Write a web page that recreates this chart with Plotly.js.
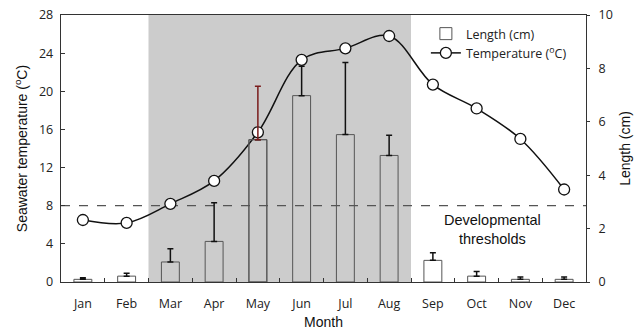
<!DOCTYPE html>
<html><head><meta charset="utf-8">
<script src="https://cdn.plot.ly/plotly-3.0.1.min.js"></script>
<style>html,body{margin:0;padding:0;background:#fff}#c{width:638px;height:331px}</style>
</head><body><div id="c"></div>
<script>
var months = ["Jan","Feb","Mar","Apr","May","Jun","Jul","Aug","Sep","Oct","Nov","Dec"];
var temperature = [6.5, 6.2, 8.2, 10.6, 15.7, 23.3, 24.5, 25.8, 20.7, 18.2, 15.0, 9.7];
var lengthCm = [0.10, 0.22, 0.75, 1.52, 5.33, 6.98, 5.52, 4.74, 0.81, 0.22, 0.10, 0.10];
var lengthErr = [0.06, 0.11, 0.50, 1.45, 2.00, 1.10, 2.70, 0.76, 0.29, 0.17, 0.09, 0.09];
var threshold = 8;
var warmSeason = ["Mar","Aug"];
var redErrMonth = "May";

var idxStart = months.indexOf(warmSeason[0]) - 0.5;
var idxEnd = months.indexOf(warmSeason[1]) + 0.5;
var inSeason = months.map(function(m,i){ return i >= idxStart && i <= idxEnd; });
var barFill = inSeason.map(function(s){ return s ? 'rgba(0,0,0,0)' : '#ffffff'; });
var redIdx = months.indexOf(redErrMonth);
var errMain = lengthErr.map(function(e,i){ return i===redIdx ? null : e; });
var zeros = lengthErr.map(function(){ return 0; });

var lblFont = {family:'Open Sans, Liberation Sans, sans-serif', size:12.5, color:'#222'};
var titleFont = {family:'Liberation Sans, Arial, sans-serif', size:14, color:'#111'};

var traces = [
  {type:'bar', x:months, y:lengthCm, yaxis:'y2', name:'Length (cm)', width:0.41,
   marker:{color:barFill, line:{color:'#555', width:1}},
   error_y:{type:'data', symmetric:false, array:errMain, arrayminus:zeros, color:'#111', thickness:1.5, width:3}},
  {type:'bar', x:[months[redIdx]], y:[lengthCm[redIdx]], yaxis:'y2', showlegend:false, width:0.41, hoverinfo:'skip',
   marker:{color:'rgba(0,0,0,0)', line:{color:'#555', width:1}},
   error_y:{type:'data', symmetric:false, array:[lengthErr[redIdx]], arrayminus:[0], color:'#7a1c1c', thickness:1.5, width:3}},
  {type:'scatter', mode:'lines+markers', x:months, y:temperature, name:'Temperature (<sup>o</sup>C)',
   line:{color:'#111', width:1.5, shape:'spline', smoothing:1},
   marker:{symbol:'circle', size:11, color:'#fff', line:{color:'#111', width:1.3}}}
];

var layout = {
  width:638, height:331, margin:{l:61, r:52, t:15, b:49},
  paper_bgcolor:'#fff', plot_bgcolor:'#fff', barmode:'overlay',
  showlegend:true,
  legend:{x:0.695, y:0.985, xanchor:'left', yanchor:'top', bgcolor:'rgba(0,0,0,0)',
          font:{family:'Open Sans, Liberation Sans, sans-serif', size:12.5, color:'#222'},
          itemwidth:30, tracegroupgap:0},
  xaxis:{type:'category', categoryarray:months, range:[-0.5, 11.5], showline:true, linecolor:'#333', linewidth:1.3,
         mirror:true, ticks:'inside', ticklen:4, tickcolor:'#333', tickson:'boundaries', showgrid:false, zeroline:false,
         tickfont:lblFont, ticklabelstandoff:10,
         title:{text:'Month', font:titleFont, standoff:6}},
  yaxis:{range:[0,28], dtick:4, showline:true, linecolor:'#333', linewidth:1.3, mirror:true,
         ticks:'inside', ticklen:4, tickcolor:'#333', showgrid:false, zeroline:false,
         tickfont:lblFont, ticklabelstandoff:4,
         title:{text:'Seawater temperature (<sup>o</sup>C)', font:titleFont, standoff:8}},
  yaxis2:{range:[0,10], dtick:2, overlaying:'y', side:'right', showline:false,
          ticks:'outside', ticklen:3, tickcolor:'#333', showgrid:false, zeroline:false,
          tickfont:lblFont, ticklabelstandoff:6,
          title:{text:'Length (cm)', font:titleFont, standoff:8}},
  shapes:[
    {type:'rect', xref:'x', yref:'paper', x0:idxStart, x1:idxEnd, y0:0, y1:1,
     fillcolor:'#cccccc', line:{width:0}, layer:'below'},
    {type:'line', xref:'paper', yref:'y', x0:0, x1:1, y0:threshold, y1:threshold,
     line:{color:'#555', width:1.2, dash:'dash'}, layer:'below'}
  ],
  annotations:[
    {xref:'paper', yref:'y', x:0.822, y:threshold-0.4, xanchor:'center', yanchor:'top', showarrow:false,
     text:'Developmental<br>thresholds', align:'center',
     font:{family:'Liberation Sans, Arial, sans-serif', size:14.5, color:'#111'}}
  ]
};
Plotly.newPlot('c', traces, layout, {displayModeBar:false, staticPlot:true});
</script></body></html>
